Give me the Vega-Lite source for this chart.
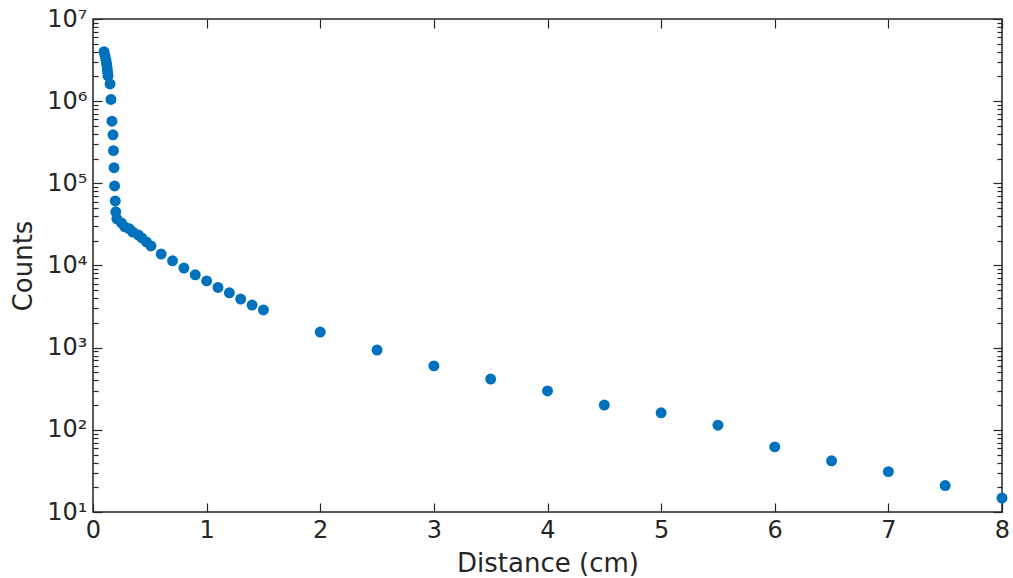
{
  "$schema": "https://vega.github.io/schema/vega-lite/v6.json",
  "width": 909,
  "height": 493,
  "autosize": "none",
  "padding": {"left": 93, "top": 19, "right": 11, "bottom": 66},
  "background": "white",
  "config": {
    "view": {"stroke": "#262626", "strokeWidth": 1.5},
    "axis": {
      "grid": false,
      "domain": false,
      "labelFlush": false,
      "tickColor": "#262626",
      "tickWidth": 1.2,
      "labelColor": "#262626",
      "titleColor": "#262626",
      "labelFont": "DejaVu Sans",
      "titleFont": "DejaVu Sans",
      "labelFontSize": 24,
      "titleFontSize": 26,
      "titleFontWeight": "normal"
    }
  },
  "data": {
    "values": [
      {"d": 0.097, "c": 4000000},
      {"d": 0.106, "c": 3550000},
      {"d": 0.114, "c": 3170000},
      {"d": 0.12, "c": 2840000},
      {"d": 0.125, "c": 2530000},
      {"d": 0.128, "c": 2270000},
      {"d": 0.132, "c": 2030000},
      {"d": 0.15, "c": 1620000},
      {"d": 0.158, "c": 1050000},
      {"d": 0.167, "c": 570000},
      {"d": 0.176, "c": 390000},
      {"d": 0.18, "c": 250000},
      {"d": 0.185, "c": 155000},
      {"d": 0.19, "c": 93000},
      {"d": 0.196, "c": 61000},
      {"d": 0.2, "c": 45000},
      {"d": 0.21, "c": 37000},
      {"d": 0.25, "c": 33000},
      {"d": 0.28, "c": 29500},
      {"d": 0.32, "c": 28000},
      {"d": 0.35, "c": 25500},
      {"d": 0.4, "c": 23500},
      {"d": 0.43, "c": 21700},
      {"d": 0.47, "c": 19400},
      {"d": 0.51, "c": 17300},
      {"d": 0.6, "c": 13800},
      {"d": 0.7, "c": 11400},
      {"d": 0.8, "c": 9300},
      {"d": 0.9, "c": 7700},
      {"d": 1.0, "c": 6500},
      {"d": 1.1, "c": 5400},
      {"d": 1.2, "c": 4650},
      {"d": 1.3, "c": 3900},
      {"d": 1.4, "c": 3300},
      {"d": 1.5, "c": 2880},
      {"d": 2.0, "c": 1550},
      {"d": 2.5, "c": 935},
      {"d": 3.0, "c": 600},
      {"d": 3.5, "c": 415},
      {"d": 4.0, "c": 297},
      {"d": 4.5, "c": 200},
      {"d": 5.0, "c": 161},
      {"d": 5.5, "c": 114},
      {"d": 6.0, "c": 62},
      {"d": 6.5, "c": 42},
      {"d": 7.0, "c": 31},
      {"d": 7.5, "c": 21},
      {"d": 8.0, "c": 14.8}
    ]
  },
  "layer": [
    {
      "mark": {"type": "point", "filled": true, "opacity": 1, "color": "#0072BD", "size": 120, "clip": false},
      "encoding": {
        "x": {
          "field": "d", "type": "quantitative",
          "scale": {"domain": [0, 8], "nice": false, "zero": false, "padding": 0},
          "axis": {"orient": "bottom", "values": [0,1,2,3,4,5,6,7,8], "tickSize": -9, "labelPadding": 15, "title": "Distance (cm)", "titlePadding": 8}
        },
        "y": {
          "field": "c", "type": "quantitative",
          "scale": {"type": "log", "domain": [10, 10000000], "nice": false, "padding": 0},
          "axis": {"orient": "left", "values": [10,100,1000,10000,100000,1000000,10000000], "tickSize": -9, "labelPadding": 15,
            "labelExpr": "'10' + ['⁰','¹','²','³','⁴','⁵','⁶','⁷'][round(log(datum.value)/LN10)]",
            "title": "Counts", "titlePadding": 10}
        }
      }
    },
    {
      "mark": {"type": "point", "opacity": 0},
      "encoding": {
        "x": {"field": "d", "type": "quantitative",
          "axis": {"orient": "top", "values": [0,1,2,3,4,5,6,7,8], "tickSize": -9, "labels": false, "title": null}},
        "y": {"field": "c", "type": "quantitative",
          "axis": {"orient": "right", "values": [10,100,1000,10000,100000,1000000,10000000], "tickSize": -9, "labels": false, "title": null}}
      }
    },
    {
      "mark": {"type": "point", "opacity": 0},
      "encoding": {
        "x": {"field": "d", "type": "quantitative", "axis": null},
        "y": {"field": "c", "type": "quantitative",
          "axis": {"orient": "left", "tickSize": -5, "labels": false, "title": null,
            "values": [20,30,40,50,60,70,80,90,200,300,400,500,600,700,800,900,2000,3000,4000,5000,6000,7000,8000,9000,20000,30000,40000,50000,60000,70000,80000,90000,200000,300000,400000,500000,600000,700000,800000,900000,2000000,3000000,4000000,5000000,6000000,7000000,8000000,9000000]}}
      }
    },
    {
      "mark": {"type": "point", "opacity": 0},
      "encoding": {
        "x": {"field": "d", "type": "quantitative", "axis": null},
        "y": {"field": "c", "type": "quantitative",
          "axis": {"orient": "right", "tickSize": -5, "labels": false, "title": null,
            "values": [20,30,40,50,60,70,80,90,200,300,400,500,600,700,800,900,2000,3000,4000,5000,6000,7000,8000,9000,20000,30000,40000,50000,60000,70000,80000,90000,200000,300000,400000,500000,600000,700000,800000,900000,2000000,3000000,4000000,5000000,6000000,7000000,8000000,9000000]}}
      }
    }
  ],
  "resolve": {"scale": {"x": "shared", "y": "shared"}, "axis": {"x": "independent", "y": "independent"}}
}
